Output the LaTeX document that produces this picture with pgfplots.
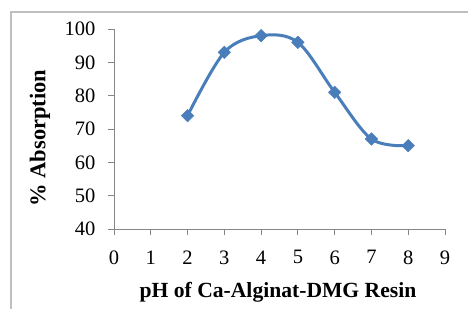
\documentclass[border=0pt]{standalone}
\usepackage{fontspec}
\setmainfont{Liberation Serif}
\usepackage{pgfplots}
\pgfplotsset{compat=1.18}
\definecolor{series}{HTML}{4A7EBB}
\definecolor{axgray}{HTML}{868686}
\definecolor{framegray}{HTML}{BFBFBF}
\begin{document}
\begin{tikzpicture}[x=1pt,y=1pt]
\useasboundingbox (0,0) rectangle (468,308);
\clip (0,0) rectangle (468,308);
\fill[white] (0,0) rectangle (468,308);
\draw[framegray, line width=1.2pt] (11,-20) -- (11,296) -- (500,296);
\begin{axis}[
  at={(114pt,79pt)}, anchor=south west,
  scale only axis, width=331pt, height=200pt,
  xmin=0, xmax=9, ymin=40, ymax=100,
  xtick={0,1,...,9}, ytick={40,50,...,100},
  axis lines*=left,
  axis line style={axgray, line width=0.9pt},
  tick style={axgray, line width=0.9pt},
  tick align=outside, major tick length=6pt,
  /pgf/number format/assume math mode=true,
  ticklabel style={font=\fontsize{20.5}{20.5}\selectfont, text=black},
  xticklabel style={yshift=-12pt},
  yticklabel style={xshift=-9pt},
  clip=false,
]
\addplot[series, line width=3pt, smooth, tension=0.55,
  mark=square*, mark size=4.4pt, mark options={rotate=45, fill=series, draw=series, line width=0.5pt}]
  coordinates {(2,74) (3,93) (4,98) (5,96) (6,81) (7,67) (8,65)};
\end{axis}
\node[anchor=base, font=\bfseries\fontsize{21.6}{21.6}\selectfont] at (278,11) {pH of Ca-Alginat-DMG Resin};
\node[rotate=90, font=\bfseries\fontsize{22.5}{22.5}\selectfont] at (40,170) {\% Absorption};
\end{tikzpicture}
\end{document}
